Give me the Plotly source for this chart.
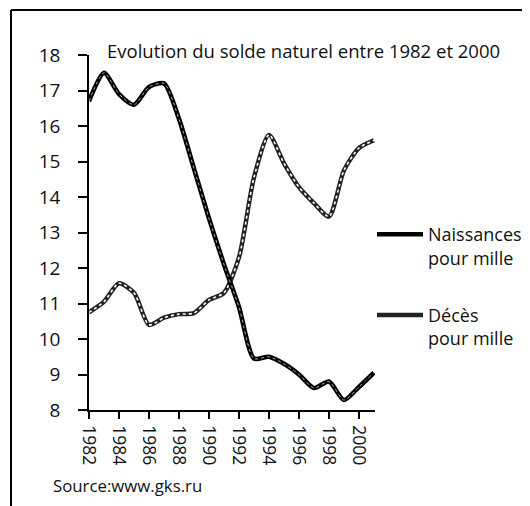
import plotly.graph_objects as go

years = list(range(1982, 2002))
naissances = [16.7, 17.5, 16.9, 16.6, 17.1, 17.2, 16.2, 14.8, 13.4, 12.1,
              10.9, 9.45, 9.5, 9.3, 9.0, 8.62, 8.8, 8.28, 8.65, 9.05]
deces = [10.75, 11.05, 11.57, 11.3, 10.4, 10.6, 10.7, 10.73, 11.1, 11.3,
         12.3, 14.55, 15.75, 14.95, 14.28, 13.83, 13.45, 14.75, 15.38, 15.6]
tick_years = list(range(1982, 2001, 2))
y_ticks = list(range(8, 19))

FONT = "Open Sans"

# figure is placed 8px in from the page corner (body margin)
W, H = 522, 498
L, R, T, B = 81, 367, 47, 402


def px(fx):
    return (fx - L) / (R - L)


def py(fy):
    return (B - fy) / (B - T)


fig = go.Figure()
fig.add_trace(go.Scatter(
    x=years, y=deces, mode="lines", name="Décès<br>pour mille",
    line=dict(color="#222222", width=4.5, shape="spline", smoothing=0.7),
    legendgroup="d", legendrank=2,
))
fig.add_trace(go.Scatter(
    x=years, y=deces, mode="lines", showlegend=False, hoverinfo="skip",
    line=dict(color="white", width=1.6, shape="spline", smoothing=0.7, dash="dot"),
    legendgroup="d",
))
fig.add_trace(go.Scatter(
    x=years, y=naissances, mode="lines", name="Naissances<br>pour mille",
    line=dict(color="black", width=4.6, shape="spline", smoothing=0.7),
    legendgroup="n", legendrank=1,
))
fig.add_trace(go.Scatter(
    x=years, y=naissances, mode="lines", showlegend=False, hoverinfo="skip",
    line=dict(color="#dddddd", width=0.8, shape="spline", smoothing=0.7, dash="dot"),
    legendgroup="n",
))

fig.update_layout(
    width=W, height=H,
    margin=dict(l=L, r=W - R, t=T, b=H - B, autoexpand=False),
    paper_bgcolor="white", plot_bgcolor="white",
    font=dict(family=FONT, color="#111111"),
    legend=dict(
        x=px(364), xanchor="left", y=py(208), yanchor="top",
        font=dict(size=18, family=FONT, color="#111111"),
        valign="top", traceorder="grouped", tracegroupgap=31,
        bgcolor="rgba(0,0,0,0)", itemwidth=46,
    ),
    xaxis=dict(
        range=[1982, 2001.07], tickmode="array", tickvals=tick_years,
        ticktext=[str(y) for y in tick_years], tickangle=90,
        showgrid=False, zeroline=False, showline=True, linecolor="black",
        linewidth=1.5, ticks="outside", ticklen=7, tickwidth=1.5, tickcolor="black",
        tickfont=dict(size=17.5, family=FONT, color="#111111"),
        ticklabelstandoff=3,
    ),
    yaxis=dict(
        range=[8, 18], tickmode="array", tickvals=y_ticks,
        showgrid=False, zeroline=False, showline=True, linecolor="black",
        linewidth=1.5, ticks="outside", ticklen=9, tickwidth=1.5, tickcolor="black",
        tickfont=dict(size=19, family=FONT, color="#111111"),
        ticklabelstandoff=14,
    ),
    shapes=[
        dict(type="line", xref="paper", yref="paper",
             x0=px(3), x1=px(W + 2), y0=py(2), y1=py(2),
             line=dict(color="black", width=2)),
        dict(type="line", xref="paper", yref="paper",
             x0=px(3), x1=px(3), y0=py(2), y1=py(H + 2),
             line=dict(color="black", width=2)),
    ],
    annotations=[
        dict(text="Evolution du solde naturel entre 1982 et 2000",
             xref="paper", yref="paper", x=px(97), y=py(42),
             xanchor="left", yanchor="middle", showarrow=False,
             font=dict(size=18.5, family=FONT, color="#111111")),
        dict(text="Source:www.gks.ru",
             xref="paper", yref="paper", x=px(43), y=py(477),
             xanchor="left", yanchor="middle", showarrow=False,
             font=dict(size=16.8, family=FONT, color="#111111")),
    ],
)

fig.write_html("out.html")
